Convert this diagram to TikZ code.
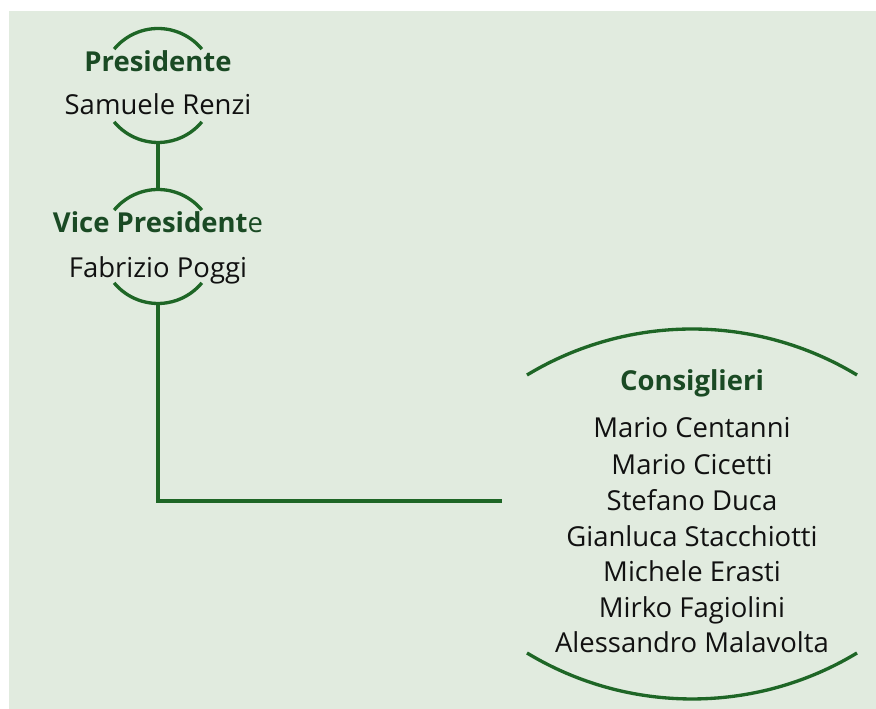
\documentclass[tikz,border=0pt]{standalone}
\usepackage{fontspec}
\setmainfont{Open Sans}
\definecolor{bg}{HTML}{E1EBDF}
\definecolor{ln}{HTML}{1E6626}
\definecolor{ttl}{HTML}{1A4A24}
\definecolor{txt}{HTML}{111111}
\begin{document}
\begin{tikzpicture}[x=0.75pt,y=0.75pt,
  arcline/.style={draw=ln, line width=2.5pt},
  conn/.style={draw=ln, line width=2.5pt},
  holder/.style={circle, inner sep=0pt, outer sep=0pt, minimum size=85.5pt},
  boxholder/.style={rectangle, inner sep=0pt, outer sep=0pt, minimum width=285pt, minimum height=10pt},
  title/.style={anchor=base, text=ttl, font=\fontsize{20.6}{24}\selectfont\bfseries, inner sep=0pt},
  person/.style={anchor=base, text=txt, font=\fontsize{20.6}{24}\selectfont, inner sep=0pt},
  member/.style={anchor=base, text=txt, font=\fontsize{20.6}{24}\selectfont, inner sep=0pt}]
\useasboundingbox (0,0) rectangle (876,709);
\fill[bg] (9,0) rectangle (876,698);

% invisible holders
\node[holder] (pres) at (158,623.5) {};
\node[holder] (vice) at (158,462.5) {};
\node[boxholder] (cons) at (692,208) {};

% arcs
\draw[arcline] (pres.center) ++(39.7:57) arc[start angle=39.7, end angle=140.3, radius=57];
\draw[arcline] (pres.center) ++(-140.3:57) arc[start angle=-140.3, end angle=-39.7, radius=57];
\draw[arcline] (vice.center) ++(39.7:57) arc[start angle=39.7, end angle=140.3, radius=57];
\draw[arcline] (vice.center) ++(-140.3:57) arc[start angle=-140.3, end angle=-39.7, radius=57];
\coordinate (ctop) at (692,61);
\coordinate (cbot) at (692,329);
\draw[arcline] (ctop) ++(58.85:319) arc[start angle=58.85, end angle=121.15, radius=319];
\draw[arcline] (cbot) ++(-121.15:319) arc[start angle=-121.15, end angle=-58.85, radius=319];

% connectors
\draw[conn] (pres.south) -- (vice.north);
\draw[conn] (vice.south) |- (cons.west);

% texts
\node[title] (t1) at (158,637) {Presidente};
\node[person] (p1) at (158,594) {Samuele Renzi};
\node[title] (t2) at (158,476) {Vice President\mdseries e};
\node[person] (p2) at (158,431) {Fabrizio Poggi};
\node[title] (t3) at (692,318) {Consiglieri};
\node[member] (m1) at (692,271) {Mario Centanni};
\node[member] (m2) at (692,234) {Mario Cicetti};
\node[member] (m3) at (692,198) {Stefano Duca};
\node[member] (m4) at (692,162) {Gianluca Stacchiotti};
\node[member] (m5) at (692,127) {Michele Erasti};
\node[member] (m6) at (692,91) {Mirko Fagiolini};
\node[member] (m7) at (692,56) {Alessandro Malavolta};
\end{tikzpicture}
\end{document}
